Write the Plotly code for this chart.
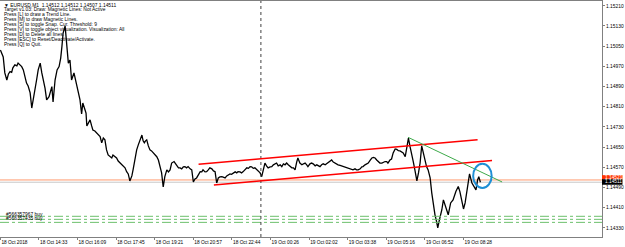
import plotly.graph_objects as go

# ---- price series (EURUSD M1, bar index vs close) ----
bars = [0, 3, 7, 11, 16, 20, 24, 28, 31, 36,
        41, 44, 49, 53, 57, 61, 65, 69, 74, 78,
        81, 86, 90, 94, 99, 103, 107, 111, 115, 119,
        121, 128, 131, 136, 141, 146, 150, 153, 156, 161,
        165, 169, 173, 177, 183, 188, 193, 198, 202, 205,
        209, 213, 215, 219, 223, 227, 230, 235, 240, 244,
        248, 252, 256, 260, 264, 268, 273, 277, 280, 285,
        289, 293, 298, 302, 305, 310, 314, 318, 322, 327,
        330, 335, 339, 343, 345, 349, 352, 355, 358, 361,
        364, 368, 372, 376, 380, 385, 389, 393, 395, 398,
        401, 405, 409, 414, 418, 422, 426, 432, 436, 439,
        443, 447, 451, 455, 459, 463, 467, 472, 476, 480,
        484, 488, 492, 497, 501, 504, 509, 513, 517, 521,
        526, 530, 534, 538, 542, 546, 551, 555, 559, 563,
        566, 571, 575, 579, 584, 588, 591, 596, 600, 604,
        609, 613, 617, 621, 625, 629, 633, 638, 642, 646,
        650, 654, 658, 662, 666, 671, 675, 679, 683, 687,
        691, 696, 700, 704, 708, 712, 716, 720, 725, 729,
        733, 737, 740, 745, 750, 754, 758, 762, 765, 770,
        774, 778, 783, 787, 791, 795, 799, 803, 808, 812,
        815, 820, 824, 828, 832, 837, 840, 845, 849, 852,
        857, 862, 865, 870, 874, 877, 882, 886, 890, 895,
        899, 902, 907, 911, 915, 920, 924, 928, 932, 936,
        939, 944, 949, 953, 957, 961, 964, 969, 973, 977,
        982, 986, 990, 994, 998, 1002, 1007, 1011, 1015, 1019,
        1023, 1027, 1031, 1036, 1040, 1044, 1048, 1052, 1056, 1060,
        1064, 1069, 1073, 1077, 1081, 1085, 1088, 1092, 1098, 1102,
        1105, 1109, 1114, 1120, 1126, 1133, 1139, 1143, 1148, 1152,
        1156, 1162, 1167, 1173, 1178, 1183, 1187, 1190, 1194]

close = [1.15035, 1.15023, 1.15007, 1.14944, 1.14916, 1.14940, 1.14949, 1.14946, 1.14964, 1.14976,
         1.14972, 1.14983, 1.14976, 1.14969, 1.14956, 1.14929, 1.14904, 1.14892, 1.14865, 1.14805,
         1.14837, 1.14877, 1.14916, 1.14956, 1.14983, 1.14944, 1.14916, 1.14884, 1.14837, 1.14849,
         1.14850, 1.14890, 1.14829, 1.14916, 1.14956, 1.14969, 1.15003, 1.15048, 1.15102, 1.15130,
         1.15035, 1.14983, 1.14995, 1.14916, 1.14944, 1.14904, 1.14870, 1.14837, 1.14782, 1.14825,
         1.14805, 1.14785, 1.14734, 1.14750, 1.14758, 1.14734, 1.14718, 1.14714, 1.14706, 1.14698,
         1.14692, 1.14667, 1.14686, 1.14679, 1.14639, 1.14619, 1.14612, 1.14607, 1.14619, 1.14611,
         1.14607, 1.14595, 1.14587, 1.14580, 1.14573, 1.14568, 1.14553, 1.14544, 1.14516, 1.14536,
         1.14560, 1.14607, 1.14639, 1.14659, 1.14667, 1.14686, 1.14698, 1.14675, 1.14667, 1.14675,
         1.14679, 1.14655, 1.14639, 1.14635, 1.14627, 1.14619, 1.14612, 1.14599, 1.14587, 1.14568,
         1.14548, 1.14492, 1.14533, 1.14560, 1.14552, 1.14560, 1.14587, 1.14593, 1.14584, 1.14573,
         1.14568, 1.14568, 1.14564, 1.14572, 1.14573, 1.14568, 1.14573, 1.14564, 1.14560, 1.14512,
         1.14524, 1.14528, 1.14540, 1.14553, 1.14552, 1.14560, 1.14552, 1.14553, 1.14560, 1.14568,
         1.14564, 1.14556, 1.14553, 1.14508, 1.14528, 1.14532, 1.14533, 1.14530, 1.14528, 1.14536,
         1.14540, 1.14544, 1.14542, 1.14548, 1.14552, 1.14548, 1.14553, 1.14552, 1.14548, 1.14553,
         1.14560, 1.14568, 1.14566, 1.14573, 1.14572, 1.14566, 1.14568, 1.14560, 1.14556, 1.14548,
         1.14533, 1.14560, 1.14587, 1.14576, 1.14568, 1.14572, 1.14573, 1.14580, 1.14584, 1.14587,
         1.14576, 1.14580, 1.14573, 1.14584, 1.14580, 1.14587, 1.14580, 1.14573, 1.14568, 1.14568,
         1.14560, 1.14591, 1.14607, 1.14587, 1.14580, 1.14584, 1.14587, 1.14580, 1.14573, 1.14584,
         1.14587, 1.14584, 1.14576, 1.14580, 1.14576, 1.14573, 1.14580, 1.14584, 1.14580, 1.14585,
         1.14587, 1.14595, 1.14599, 1.14591, 1.14587, 1.14584, 1.14580, 1.14578, 1.14576, 1.14573,
         1.14572, 1.14568, 1.14568, 1.14564, 1.14562, 1.14560, 1.14564, 1.14560, 1.14560, 1.14564,
         1.14572, 1.14573, 1.14580, 1.14584, 1.14587, 1.14599, 1.14607, 1.14609, 1.14607, 1.14599,
         1.14593, 1.14587, 1.14587, 1.14591, 1.14593, 1.14593, 1.14587, 1.14599, 1.14603, 1.14627,
         1.14643, 1.14641, 1.14636, 1.14635, 1.14632, 1.14627, 1.14612, 1.14652, 1.14686, 1.14652,
         1.14627, 1.14593, 1.14560, 1.14516, 1.14548, 1.14587, 1.14655, 1.14627, 1.14599, 1.14573,
         1.14560, 1.14528, 1.14469, 1.14414, 1.14382, 1.14355, 1.14330, 1.14362, 1.14401, 1.14441,
         1.14425, 1.14409, 1.14382, 1.14429, 1.14441, 1.14474, 1.14494, 1.14474, 1.14429, 1.14405,
         1.14429, 1.14494, 1.14544, 1.14508, 1.14494, 1.14481, 1.14520, 1.14533, 1.14511]

# ---- axis ticks ----
time_tick_bars = [0, 96, 192, 288, 384, 480, 576, 672, 768, 864, 960, 1056, 1152]
time_tick_labels = ["18 Oct 2018", "18 Oct 14:33", "18 Oct 16:09", "18 Oct 17:45", "18 Oct 19:21",
                    "18 Oct 20:57", "18 Oct 22:44", "19 Oct 00:26", "19 Oct 02:02", "19 Oct 03:38",
                    "19 Oct 05:16", "19 Oct 06:52", "19 Oct 08:28"]
price_ticks = [1.14330, 1.14410, 1.14490, 1.14570, 1.14650, 1.14730, 1.14810,
               1.14890, 1.14970, 1.15050, 1.15130, 1.15210]

# ---- drawn objects ----
channel_upper = [(493, 1.14582), (1187, 1.14679)]
channel_lower = [(531, 1.14500), (1223, 1.14597)]
green_trend = [(1014, 1.14689), (1248, 1.14512)]
circle_box = [(1176, 1.14488), (1222, 1.14584)]
cursor_bar = 648
ask_price = 1.14520
bid_price = 1.14511
order_levels = [1.14376, 1.14364, 1.14352]
order_labels = ["#566357967 buy", "#566357435 buy"]
order_label_prices = [1.14382, 1.14366]

header = "\u25BC EURUSD,M1  1.14512 1.14512 1.14507 1.14511"
info_lines = ["Target v1.03: Draw: Magnetic Lines: Not Active",
              "Press [L] to draw a Trend Line.",
              "Press [M] to draw Magnetic Lines.",
              "Press [S] to toggle Snap. Cur. Threshold: 9",
              "Press [V] to toggle object visualization. Visualization: All",
              "Press [D] to Delete all lines.",
              "Press [ESC] to Reset/Deactivate/Activate.",
              "Press [Q] to Quit."]

FONT = "Liberation Sans"
TXT = 4.9

fig = go.Figure()
fig.add_trace(go.Scatter(x=bars, y=close, mode="lines",
                         line=dict(color="black", width=1.3), hoverinfo="skip"))

shapes = []
# bid / ask lines
shapes.append(dict(type="line", xref="paper", x0=0, x1=1, yref="y", y0=bid_price, y1=bid_price,
                   line=dict(color="#C8C8C8", width=1), layer="below"))
shapes.append(dict(type="line", xref="paper", x0=0, x1=1, yref="y", y0=ask_price, y1=ask_price,
                   line=dict(color="#FF9A6E", width=1), layer="below"))
# order lines
for lv in order_levels:
    shapes.append(dict(type="line", xref="paper", x0=0, x1=1, yref="y", y0=lv, y1=lv,
                       line=dict(color="#6CC06C", width=1, dash="dashdot")))
# vertical cursor line
shapes.append(dict(type="line", xref="x", x0=cursor_bar, x1=cursor_bar, yref="paper", y0=0, y1=1,
                   line=dict(color="#404040", width=1, dash="dot")))
# channel
for seg in (channel_upper, channel_lower):
    shapes.append(dict(type="line", x0=seg[0][0], y0=seg[0][1], x1=seg[1][0], y1=seg[1][1],
                       line=dict(color="#FF0000", width=1.5)))
shapes.append(dict(type="line", x0=green_trend[0][0], y0=green_trend[0][1],
                   x1=green_trend[1][0], y1=green_trend[1][1],
                   line=dict(color="#3DAA4A", width=1)))
shapes.append(dict(type="circle", x0=circle_box[0][0], y0=circle_box[0][1],
                   x1=circle_box[1][0], y1=circle_box[1][1],
                   line=dict(color="#1E8FD5", width=2)))
# price boxes on the axis
shapes.append(dict(type="rect", xref="paper", x0=1.0, x1=1.034, yref="y", y0=1.14523, y1=1.14539,
                   fillcolor="#FF3300", line=dict(width=0)))
shapes.append(dict(type="rect", xref="paper", x0=1.0, x1=1.034, yref="y", y0=1.14501, y1=1.14523,
                   fillcolor="#000000", line=dict(width=0)))

annotations = []
annotations.append(dict(text=header, xref="paper", yref="paper", x=0.004, y=0.983,
                        xanchor="left", yanchor="middle", showarrow=False,
                        font=dict(family=FONT, size=TXT, color="black")))
for i, t in enumerate(info_lines):
    annotations.append(dict(text=t, xref="paper", yref="paper", x=0.004, y=(237 - (9.9 + 4.9 * i)) / 236,
                            xanchor="left", yanchor="middle", showarrow=False,
                            font=dict(family=FONT, size=TXT, color="black")))
for t, p in zip(order_labels, order_label_prices):
    annotations.append(dict(text=t, xref="paper", yref="y", x=0.007, y=p,
                            xanchor="left", yanchor="middle", showarrow=False,
                            font=dict(family=FONT, size=TXT, color="black")))
annotations.append(dict(text="1.14521", xref="paper", yref="y", x=1.002, y=1.14531,
                        xanchor="left", yanchor="middle", showarrow=False,
                        font=dict(family=FONT, size=4.8, color="white")))
annotations.append(dict(text="1.14511", xref="paper", yref="y", x=1.002, y=1.14512,
                        xanchor="left", yanchor="middle", showarrow=False,
                        font=dict(family=FONT, size=4.8, color="white")))

fig.update_layout(
    width=625, height=247,
    margin=dict(l=0, r=23, t=1, b=10),
    paper_bgcolor="white", plot_bgcolor="white",
    showlegend=False,
    shapes=shapes, annotations=annotations,
    xaxis=dict(range=[-1, 1496.5], showgrid=False, zeroline=False,
               tickmode="array", tickvals=time_tick_bars, ticktext=time_tick_labels,
               ticks="outside", ticklen=2, tickcolor="#808080",
               ticklabelposition="outside right",
               tickfont=dict(family=FONT, size=4.8, color="black"),
               showline=True, linecolor="#808080", linewidth=1, mirror=True),
    yaxis=dict(range=[1.14294, 1.15229], side="right", showgrid=False, zeroline=False,
               tickmode="array", tickvals=price_ticks,
               ticktext=[f"{v:.5f}" for v in price_ticks],
               ticks="outside", ticklen=2, tickcolor="#808080",
               tickfont=dict(family=FONT, size=4.9, color="black"),
               showline=True, linecolor="#808080", linewidth=1, mirror=True),
)

fig.write_html("out.html")
